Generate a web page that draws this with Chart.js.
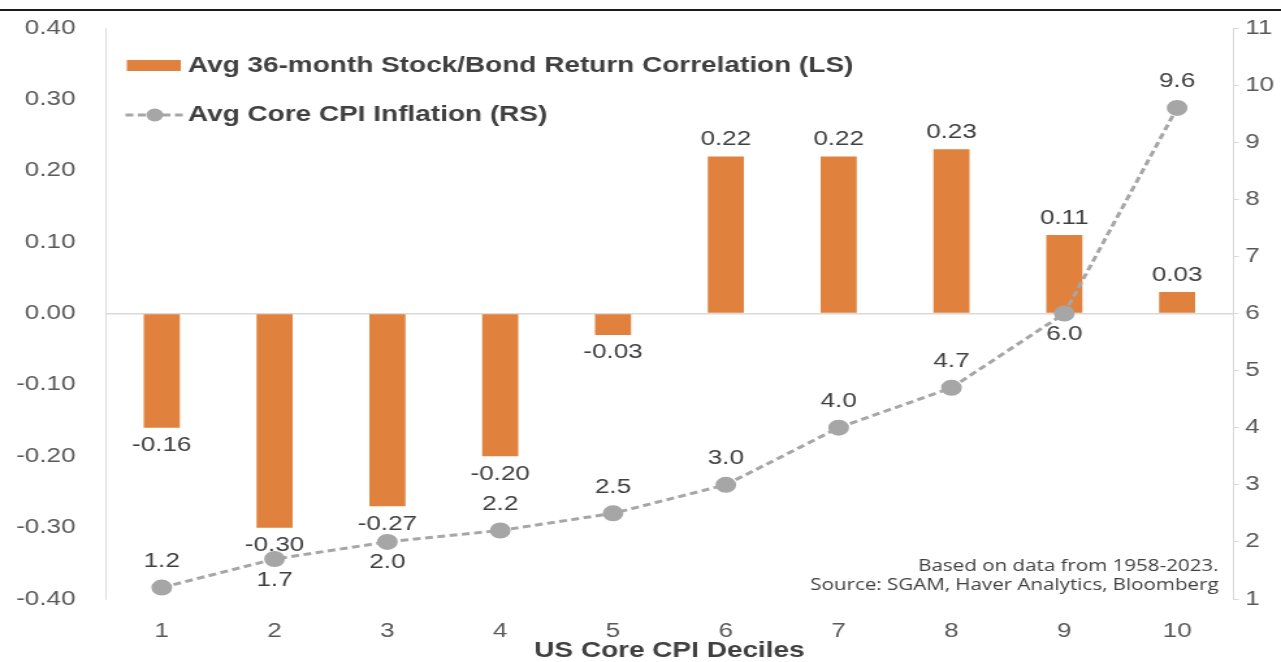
<!DOCTYPE html>
<html>
<head>
<meta charset="utf-8">
<script src="https://cdn.jsdelivr.net/npm/chart.js@4.4.1/dist/chart.umd.min.js"></script>
<style>
  html, body { margin: 0; padding: 0; background: #fff; overflow: hidden; }
  #wrap { width: 985px; height: 662px; transform: scaleX(1.3005); transform-origin: 0 0; }
</style>
</head>
<body>
<div id="wrap"><canvas id="chart" width="985" height="662"></canvas></div>
<script>
// data
const deciles = ['1', '2', '3', '4', '5', '6', '7', '8', '9', '10'];
const corrValues = [-0.16, -0.30, -0.27, -0.20, -0.03, 0.22, 0.22, 0.23, 0.11, 0.03];
const cpiValues = [1.2, 1.7, 2.0, 2.2, 2.5, 3.0, 4.0, 4.7, 6.0, 9.6];
const cpiLabelSide = ['up', 'down', 'down', 'up', 'up', 'up', 'up', 'up', 'down', 'up'];

const orange = '#E0823D';
const grey = '#A6A6A6';
const textDark = '#404040';
const tickGrey = '#595959';
const FONT = "Arial, 'Liberation Sans', sans-serif";

// value labels, legend, note and the black rule at the top
const extras = {
    id: 'extras',
    afterDatasetsDraw(chart) {
        const ctx = chart.ctx;
        ctx.save();
        ctx.fillStyle = textDark;
        ctx.font = '20px ' + FONT;
        ctx.textAlign = 'center';
        ctx.textBaseline = 'middle';

        const bars = chart.getDatasetMeta(0).data;
        bars.forEach((el, i) => {
            const v = corrValues[i];
            const y = v >= 0 ? el.y - 17 : el.y + 18;
            ctx.fillText(v.toFixed(2), el.x, y);
        });

        const pts = chart.getDatasetMeta(1).data;
        pts.forEach((el, i) => {
            const y = cpiLabelSide[i] === 'up' ? el.y - 26 : el.y + 21;
            ctx.fillText(cpiValues[i].toFixed(1), el.x, y);
        });

        // legend
        const lx = 97.5;
        ctx.fillStyle = orange;
        ctx.fillRect(lx, 60, 41.5, 11);
        ctx.strokeStyle = grey;
        ctx.lineWidth = 3;
        ctx.setLineDash([6, 3.5]);
        ctx.beginPath();
        ctx.moveTo(lx - 1, 115);
        ctx.lineTo(lx + 44, 115);
        ctx.stroke();
        ctx.setLineDash([]);
        ctx.fillStyle = grey;
        ctx.beginPath();
        ctx.arc(lx + 21.5, 115, 6.5, 0, Math.PI * 2);
        ctx.fill();

        ctx.fillStyle = textDark;
        ctx.font = 'bold 21.5px ' + FONT;
        ctx.textAlign = 'left';
        ctx.fillText('Avg 36-month Stock/Bond Return Correlation (LS)', 144.5, 66);
        ctx.fillText('Avg Core CPI Inflation (RS)', 144.5, 115);

        // source note
        ctx.font = "15.8px 'Open Sans', sans-serif";
        ctx.textAlign = 'right';
        ctx.fillText('Based on data from 1958-2023.', 937, 566);
        ctx.fillText('Source: SGAM, Haver Analytics, Bloomberg', 937, 585);

        // top rule
        ctx.fillStyle = '#1a1a1a';
        ctx.fillRect(0, 9, chart.width, 2);
        ctx.restore();
    }
};

new Chart(document.getElementById('chart'), {
    data: {
        labels: deciles,
        datasets: [
            {
                type: 'bar',
                label: 'Avg 36-month Stock/Bond Return Correlation (LS)',
                data: corrValues,
                backgroundColor: orange,
                barPercentage: 0.32,
                categoryPercentage: 1,
                yAxisID: 'y',
                order: 2
            },
            {
                type: 'line',
                label: 'Avg Core CPI Inflation (RS)',
                data: cpiValues,
                borderColor: grey,
                borderWidth: 3,
                borderDash: [6, 3.5],
                pointBackgroundColor: grey,
                pointBorderColor: grey,
                pointRadius: 6.5,
                tension: 0,
                yAxisID: 'y1',
                order: 1
            }
        ]
    },
    options: {
        responsive: false,
        animation: false,
        layout: { padding: { top: 28, bottom: 0, left: 0, right: 0 } },
        plugins: {
            legend: { display: false },
            tooltip: { enabled: false }
        },
        scales: {
            x: {
                grid: { display: false },
                border: { display: false },
                ticks: { color: tickGrey, font: { size: 20, family: FONT }, padding: 12, maxRotation: 0 },
                title: {
                    display: true,
                    text: 'US Core CPI Deciles',
                    color: textDark,
                    font: { size: 21.5, weight: 'bold', family: FONT, lineHeight: 1.0 },
                    padding: { top: 0, bottom: 0 }
                },
                afterFit(scale) { scale.height = 63; }
            },
            y: {
                position: 'left',
                min: -0.4,
                max: 0.4,
                border: { display: true, color: '#D9D9D9', width: 1 },
                grid: {
                    drawTicks: false,
                    color: (c) => Math.abs(c.tick.value) < 1e-9 ? '#D9D9D9' : 'rgba(0,0,0,0)',
                    lineWidth: 1.5
                },
                ticks: {
                    stepSize: 0.1,
                    color: tickGrey,
                    font: { size: 20, family: FONT },
                    padding: 23,
                    callback: (v) => Number(v).toFixed(2)
                },
                afterFit(scale) {
                    scale.width = 81;
                    scale.paddingTop = 0;
                    scale.paddingBottom = 0;
                }
            },
            y1: {
                position: 'right',
                min: 1,
                max: 11,
                border: { display: true, color: '#D9D9D9', width: 1 },
                grid: { drawOnChartArea: false, color: '#D9D9D9', tickLength: 4 },
                ticks: {
                    stepSize: 1,
                    color: tickGrey,
                    font: { size: 20, family: FONT },
                    padding: 5
                },
                afterFit(scale) {
                    scale.width = 36.5;
                    scale.paddingTop = 0;
                    scale.paddingBottom = 0;
                }
            }
        }
    },
    plugins: [extras]
});
</script>
</body>
</html>
